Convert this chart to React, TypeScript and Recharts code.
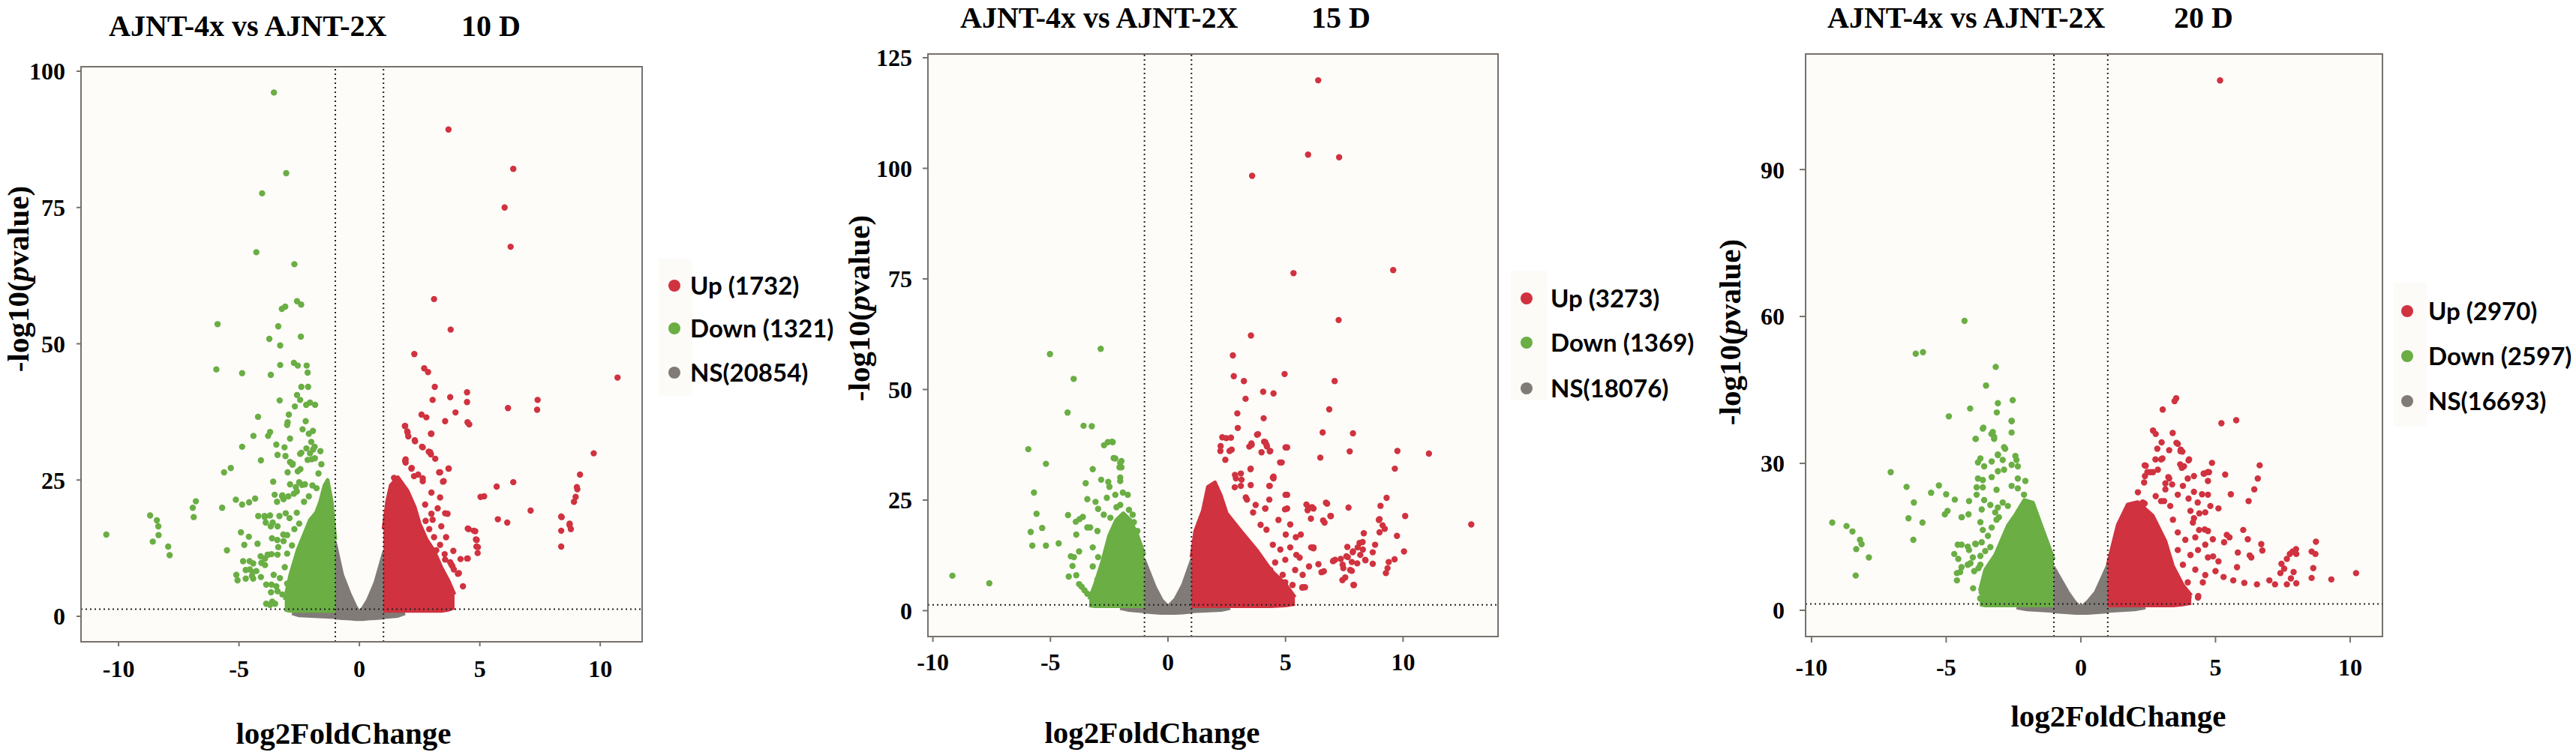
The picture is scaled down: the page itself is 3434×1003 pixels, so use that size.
import React from "react";
import {
  ComposedChart,
  Scatter,
  Area,
  XAxis,
  YAxis,
  CartesianGrid,
  ReferenceLine,
  ReferenceArea,
} from "recharts";

const RED = "#d0323f";
const GREEN = "#6aae44";
const GRAY = "#817b77";
const BG = "#fdfcf9";
const FRAME = "#77716c";
const SERIF = "'Liberation Serif', 'Times New Roman', serif";

const pCut = 1.3; // -log10(0.05)
const fcCut = 1;

const xTicks = [-10, -5, 0, 5, 10];
const yTicks10 = [0, 25, 50, 75, 100];
const yTicks15 = [0, 25, 50, 75, 100, 125];
const yTicks20 = [0, 30, 60, 90];

const days = ["10 D", "15 D", "20 D"];
const upCounts = [1732, 3273, 2970];
const downCounts = [1321, 1369, 2597];
const nsCounts = [20854, 18076, 16693];

// ---- 10 D ----
const up10: [number, number][] = [
  [10.72, 43.8], [7.4, 39.7], [7.38, 37.9], [9.73, 29.9], [9.16, 26.0], [9.03, 23.7], [9.05, 23.3],
  [8.98, 21.9], [8.91, 21.0], [7.11, 19.4], [8.4, 18.2], [8.73, 17.0], [3.7, 89.3], [6.39, 82.1],
  [6.03, 75.0], [6.28, 67.8], [3.1, 58.2], [3.79, 52.6], [2.28, 48.1], [2.69, 45.5], [2.85, 44.8],
  [3.13, 42.1], [3.77, 40.2], [3.04, 39.7], [4.47, 41.1], [4.47, 39.3], [3.99, 37.4], [6.17, 38.2],
  [3.56, 35.8], [2.58, 37.0], [2.78, 36.5], [4.49, 35.6], [4.56, 35.2], [2.97, 33.5], [1.89, 34.9],
  [1.99, 33.9], [2.03, 33.0], [2.3, 32.3], [2.6, 31.1], [2.88, 30.2], [2.97, 29.7], [3.15, 28.9],
  [1.92, 28.8], [1.92, 28.2], [3.7, 27.1], [3.31, 26.4], [2.17, 27.2], [2.44, 26.0], [2.63, 25.3],
  [1.44, 25.4], [6.39, 24.6], [3.47, 24.7], [5.7, 23.8], [5.03, 21.9], [3.56, 18.9], [5.75, 17.8],
  [6.14, 17.2], [4.54, 16.0], [4.75, 15.7], [4.84, 14.1], [4.86, 12.8], [4.91, 11.6], [4.47, 10.6],
  [8.38, 18.3], [8.38, 15.7], [8.38, 12.8], [8.73, 16.7], [8.78, 16.0], [3.19, 12.1], [3.54, 11.4],
  [3.77, 9.9], [3.86, 9.2], [4.09, 7.8], [1.9, 34.9], [2.0, 33.7], [2.99, 33.5], [2.31, 32.1],
  [2.63, 31.0], [2.94, 30.1], [1.9, 28.5], [2.16, 27.1], [2.27, 25.7], [2.63, 24.8], [3.35, 26.4],
  [3.71, 27.1], [3.5, 24.8], [2.99, 22.7], [3.35, 21.8], [2.73, 20.5], [3.25, 19.8], [3.66, 18.8],
  [2.99, 18.8], [3.04, 17.7], [4.5, 16.1], [4.81, 15.6], [4.87, 14.0], [4.92, 12.7], [4.5, 10.6],
  [5.18, 22.0], [3.35, 13.1], [3.56, 10.4], [3.82, 9.5], [3.92, 8.6], [4.13, 7.9], [3.04, 8.6],
  [3.25, 6.7], [3.09, 5.0], [3.09, 4.1], [2.47, 2.1], [2.9, 16.0], [3.1, 14.5], [2.75, 17.5],
  [3.4, 16.5], [3.6, 14.5], [3.9, 12.0], [4.2, 10.5], [4.3, 5.5],
];
const down10: [number, number][] = [
  [-3.55, 96.1], [-3.04, 81.3], [-4.04, 77.6], [-4.28, 66.8], [-2.7, 64.6], [-2.59, 57.8],
  [-2.42, 57.2], [-3.22, 56.4], [-3.08, 56.8], [-5.89, 53.6], [-3.37, 53.2], [-3.74, 50.9],
  [-3.29, 49.7], [-2.43, 51.3], [-3.29, 46.1], [-2.72, 46.5], [-2.56, 46.0], [-2.19, 46.0],
  [-2.15, 44.7], [-5.94, 45.3], [-4.87, 44.6], [-3.68, 44.3], [-3.31, 39.6], [-2.59, 40.6],
  [-2.46, 39.7], [-2.13, 42.1], [-2.41, 42.1], [-2.05, 39.2], [-1.84, 38.8], [-2.21, 38.8],
  [-2.68, 38.5], [-2.93, 37.0], [-2.98, 35.6], [-4.21, 36.6], [-2.23, 35.8], [-4.4, 33.1],
  [-3.71, 33.8], [-3.79, 33.1], [-3.0, 35.1], [-2.88, 32.6], [-2.36, 34.3], [-2.1, 33.5],
  [-2.0, 32.0], [-1.93, 34.0], [-4.87, 31.1], [-3.45, 31.5], [-3.11, 31.0], [-3.4, 29.6],
  [-3.07, 29.4], [-4.09, 28.6], [-2.88, 28.3], [-2.78, 27.8], [-2.2, 30.8], [-2.41, 30.0],
  [-2.05, 29.9], [-1.86, 31.1], [-1.92, 30.6], [-1.98, 28.8], [-1.85, 29.0], [-5.62, 26.4],
  [-5.34, 27.2], [-3.58, 24.7], [-2.88, 24.2], [-2.5, 24.6], [-2.26, 24.2], [-3.2, 22.2],
  [-3.15, 21.5], [-2.95, 22.0], [-2.72, 22.5], [-2.6, 22.9], [-4.33, 21.6], [-4.58, 20.9],
  [-4.87, 20.5], [-5.13, 21.4], [-5.7, 19.9], [-6.79, 21.1], [-6.92, 19.9], [-6.88, 18.2],
  [-8.69, 18.5], [-8.41, 17.6], [-8.35, 16.5], [-8.34, 14.9], [-8.58, 13.7], [-7.94, 12.8],
  [-7.88, 11.2], [-10.51, 15.0], [-3.93, 18.2], [-3.71, 18.5], [-3.6, 17.2], [-3.4, 16.5],
  [-4.92, 15.4], [-4.59, 14.6], [-4.78, 13.1], [-4.23, 13.3], [-5.5, 12.1], [-3.41, 14.0],
  [-3.15, 13.8], [-3.0, 14.9], [-3.81, 11.3], [-3.65, 11.4], [-3.4, 11.3], [-3.92, 10.6],
  [-4.83, 10.1], [-4.56, 10.1], [-4.07, 9.8], [-4.55, 8.6], [-4.43, 8.1], [-4.28, 8.3],
  [-4.41, 6.9], [-4.09, 7.2], [-5.11, 7.6], [-5.06, 6.6], [-3.65, 5.8], [-3.45, 5.5],
  [-3.4, 4.6], [-3.62, 2.7], [-3.5, 2.3], [-2.77, 28.0], [-2.46, 29.8], [-2.15, 28.7],
  [-2.98, 26.4], [-2.56, 26.6], [-3.52, 22.3], [-3.21, 22.0], [-2.64, 23.7], [-2.38, 24.1],
  [-4.2, 18.4], [-3.94, 18.4], [-3.68, 16.5], [-3.89, 17.2], [-3.32, 18.4], [-3.06, 18.9],
  [-3.42, 21.0], [-3.63, 14.3], [-3.16, 15.0], [-3.37, 12.7], [-4.1, 11.0], [-3.79, 11.3],
  [-4.41, 9.7], [-4.72, 8.5], [-4.46, 7.4], [-4.72, 6.9], [-3.92, 9.4], [-3.56, 7.6],
  [-3.87, 5.8], [-3.67, 4.4], [-3.87, 2.3], [-3.71, 2.1], [-2.9, 18.0], [-2.7, 16.0],
  [-3.1, 9.0], [-3.3, 7.0], [-2.6, 19.0], [-3.2, 4.0], [-2.3, 21.0], [-1.62, 30.3],
  [-1.58, 27.9], [-1.7, 26.2], [-1.78, 23.5], [-2.45, 27.0], [-3.0, 11.5], [-3.0, 6.0],
  [-2.1, 22.0], [-1.95, 24.0], [-2.5, 17.0], [-2.8, 13.0],
];
const nsBand10: [number, number, number][] = [
  [-2.8, 0.5, 1.4], [-2.5, 0.1, 1.6], [-1.05, -0.2, 1.6], [-1.0, -0.3, 13.6], [-0.7, -0.4, 7.6],
  [-0.38, -0.5, 4.0], [-0.15, -0.6, 1.8], [0, -0.6, 0.8], [0.15, -0.6, 1.6], [0.34, -0.5, 3.0],
  [0.65, -0.4, 6.2], [1.0, -0.3, 11.7], [1.05, -0.2, 1.6], [1.6, 0.0, 1.6], [1.9, 0.5, 1.4],
];
const downBand10: [number, number, number][] = [
  [-3.1, 1.2, 3], [-2.87, 1.0, 7.6], [-2.56, 1.0, 12.2], [-2.3, 1.0, 15], [-2.05, 1.0, 17.7],
  [-1.8, 1.0, 19], [-1.63, 1.0, 21], [-1.45, 1.0, 24], [-1.32, 1.0, 25], [-1.15, 1.0, 21],
  [-1.0, 1.0, 14],
];
const upBand10: [number, number, number][] = [
  [1.0, 1.0, 16], [1.15, 1.0, 21], [1.3, 1.0, 24], [1.6, 1.0, 25.5], [2.0, 1.0, 23],
  [2.3, 1.0, 20], [2.5, 1.0, 17], [2.8, 1.0, 14], [3.1, 1.0, 12], [3.4, 1.0, 9], [3.7, 1.2, 6.5],
  [3.95, 1.6, 4],
];

// ---- 15 D ----
const up15: [number, number][] = [
  [6.39, 119.9], [5.96, 103.1], [7.28, 102.5], [3.58, 98.3], [5.34, 76.3], [9.58, 77.0],
  [7.26, 65.7], [3.53, 62.2], [2.76, 57.7], [4.96, 53.5], [2.8, 53.0], [3.23, 51.9], [7.09, 51.9],
  [4.05, 49.5], [4.49, 49.1], [3.3, 47.9], [6.86, 45.5], [2.95, 44.6], [4.07, 43.5], [2.97, 41.3],
  [6.58, 40.3], [7.87, 40.1], [3.79, 39.8], [2.31, 39.2], [2.48, 39.0], [2.68, 39.1], [4.09, 38.2],
  [4.21, 37.1], [4.33, 36.0], [5.0, 36.9], [3.55, 37.8], [3.46, 37.1], [7.73, 36.0], [9.76, 36.1],
  [11.1, 35.5], [2.24, 37.2], [2.62, 36.1], [6.48, 34.6], [4.77, 33.5], [4.49, 30.3], [4.49, 29.9],
  [9.65, 32.1], [3.51, 32.0], [2.85, 30.7], [3.13, 29.6], [4.33, 28.2], [5.0, 26.2], [9.3, 25.5],
  [9.04, 23.7], [6.72, 24.4], [5.89, 24.0], [5.94, 22.7], [6.13, 23.4], [4.14, 23.1], [7.68, 23.3],
  [6.91, 21.4], [6.6, 20.4], [10.09, 21.4], [4.98, 22.9], [9.0, 20.7], [9.13, 19.3], [9.22, 18.5],
  [12.9, 19.5], [8.33, 17.5], [9.0, 17.7], [9.74, 16.9], [7.63, 14.4], [7.87, 13.4], [8.15, 15.3],
  [8.29, 13.8], [7.35, 11.7], [7.59, 12.3], [7.82, 11.0], [7.46, 9.6], [8.05, 10.7], [8.4, 11.4],
  [9.39, 11.0], [9.64, 11.6], [10.04, 13.4], [7.82, 9.0], [7.89, 5.8], [7.42, 6.9], [9.27, 8.5],
  [9.34, 9.6], [8.71, 10.6], [6.53, 8.7], [7.02, 11.2], [5.71, 5.2], [3.83, 39.9], [3.56, 37.5],
  [4.14, 38.1], [4.19, 37.5], [4.35, 36.1], [3.98, 35.8], [5.07, 36.9], [4.84, 33.5], [2.23, 36.1],
  [2.71, 36.4], [2.44, 34.1], [3.52, 32.1], [3.1, 31.0], [2.89, 29.9], [2.84, 27.9], [3.1, 28.2],
  [3.52, 28.4], [4.46, 30.1], [4.31, 28.2], [5.07, 26.2], [4.31, 25.1], [3.36, 25.1], [3.31, 25.6],
  [3.73, 23.9], [3.62, 22.2], [4.14, 23.1], [3.94, 19.4], [4.19, 18.3], [5.07, 23.1], [5.01, 17.2],
  [5.65, 17.2], [5.44, 16.6], [6.19, 14.3], [5.97, 23.4], [6.19, 23.1], [6.77, 24.2], [6.93, 21.4],
  [6.66, 19.9], [6.08, 20.8], [4.46, 14.9], [4.78, 13.8], [5.2, 14.3], [5.46, 12.6], [4.99, 11.5],
  [4.56, 10.9], [4.35, 9.2], [4.88, 8.1], [5.41, 9.2], [5.73, 8.1], [4.99, 6.4], [4.78, 5.8],
  [5.3, 5.8], [4.56, 4.2], [4.14, 3.6], [5.73, 5.3], [7.11, 11.5], [7.43, 10.4], [7.65, 12.1],
  [7.86, 13.2], [8.07, 14.3], [8.28, 15.5], [8.18, 12.6], [7.75, 9.2], [7.54, 7.5], [7.91, 5.8],
  [8.39, 11.5], [8.71, 13.2], [8.81, 14.9], [8.97, 20.5], [6.63, 8.9], [7.05, 11.3], [6.09, 14.3],
  [5.83, 5.3], [6.19, 14.1], [5.6, 12.0], [6.0, 10.0], [6.4, 10.5], [5.2, 19.5], [4.7, 20.5],
];
const down15: [number, number][] = [
  [-5.02, 58.0], [-2.86, 59.2], [-4.01, 52.4], [-4.27, 44.8], [-3.59, 41.8], [-3.24, 41.7],
  [-5.94, 36.5], [-2.72, 37.4], [-2.56, 38.1], [-2.38, 38.2], [-5.19, 33.2], [-2.31, 34.5],
  [-2.03, 33.4], [-2.06, 32.4], [-3.2, 32.0], [-5.7, 26.7], [-3.5, 28.8], [-2.84, 29.6],
  [-2.54, 29.1], [-2.49, 28.0], [-5.59, 21.9], [-4.25, 21.6], [-5.35, 18.7], [-5.84, 17.8],
  [-5.77, 14.7], [-5.19, 14.7], [-4.65, 15.2], [-3.92, 20.1], [-3.62, 21.2], [-3.76, 20.7],
  [-3.9, 17.2], [-3.43, 18.8], [-3.31, 18.8], [-4.13, 12.3], [-4.0, 12.1], [-3.78, 13.4],
  [-4.06, 10.1], [-3.9, 8.0], [-3.78, 6.0], [-3.67, 5.4], [-3.43, 3.8], [-3.55, 4.6],
  [-4.22, 7.7], [-9.17, 7.9], [-7.6, 6.2], [-3.43, 25.2], [-3.08, 24.6], [-2.97, 23.0],
  [-2.73, 21.7], [-3.2, 14.3], [-2.97, 12.1], [-2.73, 9.4], [-2.35, 38.1], [-2.24, 34.4],
  [-1.98, 33.8], [-1.98, 32.4], [-2.03, 30.1], [-2.03, 29.3], [-2.24, 26.2], [-1.92, 26.7],
  [-1.71, 26.2], [-2.03, 23.9], [-1.66, 22.8], [-1.5, 21.7], [-1.82, 20.5], [-1.45, 20.0],
  [-2.19, 23.4], [-2.6, 25.5], [-3.0, 18.0], [-3.2, 10.0], [-3.0, 7.0], [-2.9, 4.0],
  [-2.45, 21.0], [-1.3, 18.0],
];
const nsBand15: [number, number, number][] = [
  [-2.04, 0.5, 1.4], [-1.7, 0.1, 1.6], [-1.05, -0.2, 1.6], [-1.0, -0.3, 11.5], [-0.54, -0.5, 5.3],
  [-0.25, -0.6, 2.4], [0, -0.6, 1.0], [0.3, -0.6, 2.6], [0.63, -0.5, 5.9], [1.0, -0.3, 11.5],
  [1.05, -0.2, 1.6], [2.3, 0.1, 1.6], [2.65, 0.5, 1.4],
];
const downBand15: [number, number, number][] = [
  [-3.35, 1.2, 2.5], [-3.1, 1.0, 6], [-2.8, 1.0, 11], [-2.5, 1.0, 17], [-2.2, 1.0, 20.5],
  [-1.9, 1.0, 22], [-1.6, 1.0, 20.5], [-1.3, 1.0, 17], [-1.0, 1.0, 12.6],
];
const upBand15: [number, number, number][] = [
  [1.0, 1.0, 12], [1.16, 1.0, 18], [1.48, 1.0, 22.5], [1.7, 1.0, 28], [2.0, 1.0, 29],
  [2.25, 1.0, 26], [2.5, 1.0, 22], [3.1, 1.0, 18], [3.8, 1.0, 13.5], [4.4, 1.0, 9],
  [5.0, 1.2, 6], [5.4, 1.5, 3],
];

// ---- 20 D ----
const up20: [number, number][] = [
  [5.17, 108.2], [3.54, 43.3], [3.48, 42.7], [3.04, 41.0], [5.77, 38.8], [5.22, 38.2], [2.68, 36.7],
  [2.78, 36.0], [3.41, 36.2], [3.55, 34.2], [3.71, 32.8], [3.77, 32.4], [2.84, 33.0], [2.98, 30.8],
  [4.0, 30.6], [3.69, 29.8], [3.75, 29.1], [4.87, 30.1], [6.64, 29.6], [2.37, 29.6], [2.47, 28.2],
  [2.68, 28.2], [5.36, 27.7], [4.56, 27.9], [4.71, 28.2], [6.57, 26.9], [3.25, 27.2], [3.39, 25.7],
  [3.14, 24.7], [5.57, 23.7], [4.2, 24.2], [4.0, 22.8], [4.5, 23.7], [6.44, 24.7], [6.23, 22.3],
  [2.78, 23.3], [2.98, 22.3], [2.37, 21.8], [4.81, 21.3], [5.11, 20.8], [4.4, 19.8], [4.2, 18.8],
  [6.03, 16.4], [5.42, 15.4], [5.52, 14.9], [5.32, 13.9], [6.7, 13.5], [6.74, 12.2], [5.83, 11.8],
  [6.27, 11.2], [6.33, 10.8], [4.91, 11.0], [5.11, 10.0], [7.76, 11.5], [7.86, 12.0], [7.99, 12.5],
  [8.0, 11.5], [8.57, 12.0], [8.73, 14.0], [8.71, 11.5], [7.45, 9.5], [7.65, 10.5], [7.55, 8.5],
  [7.41, 7.6], [7.65, 5.3], [7.8, 6.5], [8.0, 5.5], [7.9, 7.8], [8.57, 6.6], [8.63, 8.6],
  [7.21, 5.3], [7.0, 6.1], [6.54, 5.3], [6.07, 5.6], [5.66, 6.1], [9.3, 6.3], [10.22, 7.6],
  [4.0, 2.7], [4.36, 2.9], [3.0, 34.3], [3.6, 34.0], [3.28, 32.7], [3.7, 32.5], [2.77, 30.8],
  [3.03, 31.0], [2.41, 29.5], [3.83, 29.4], [4.02, 30.8], [2.86, 28.7], [2.58, 28.2], [2.38, 27.4],
  [2.35, 26.1], [3.28, 26.9], [3.97, 26.9], [4.2, 27.4], [4.58, 27.9], [4.76, 28.2], [3.14, 25.9],
  [3.79, 25.4], [4.72, 26.4], [2.12, 24.1], [2.3, 22.0], [3.09, 22.3], [3.6, 23.6], [4.34, 22.0],
  [4.72, 23.6], [3.32, 21.3], [4.07, 20.3], [4.62, 20.0], [3.42, 18.5], [4.16, 17.9], [4.39, 16.4],
  [4.72, 16.2], [3.6, 15.9], [3.88, 14.4], [4.25, 14.9], [4.62, 13.4], [4.35, 12.3], [3.6, 12.3],
  [4.07, 11.3], [4.72, 10.8], [3.79, 9.3], [4.25, 8.3], [4.62, 7.2], [3.51, 7.2], [3.97, 5.7],
  [4.53, 5.7], [3.79, 3.7], [4.35, 2.6], [3.97, 2.4], [3.32, 3.2], [5.0, 8.0], [5.3, 6.8],
  [5.8, 8.8], [6.2, 14.5], [4.9, 14.5], [4.6, 16.5],
];
const down20: [number, number][] = [
  [-4.32, 59.1], [-6.13, 52.4], [-5.86, 52.7], [-3.16, 49.7], [-3.52, 45.9], [-2.53, 42.9],
  [-3.08, 42.3], [-3.12, 40.4], [-4.11, 41.2], [-4.9, 39.6], [-2.57, 38.6], [-2.57, 36.3],
  [-3.62, 37.3], [-3.91, 35.0], [-3.32, 36.0], [-3.22, 35.0], [-2.81, 33.0], [-3.08, 31.8],
  [-7.06, 28.2], [-6.47, 25.2], [-5.27, 25.5], [-5.56, 24.0], [-6.2, 22.0], [-4.68, 22.6],
  [-5.0, 23.7], [-6.4, 18.8], [-5.88, 17.9], [-6.22, 14.4], [-5.05, 19.6], [-4.95, 20.3],
  [-9.23, 17.9], [-8.7, 17.2], [-8.48, 16.1], [-8.2, 14.4], [-8.14, 13.5], [-8.34, 12.5],
  [-7.87, 10.8], [-8.36, 7.1], [-4.42, 19.0], [-4.17, 19.6], [-4.7, 11.5], [-4.55, 10.5],
  [-4.6, 7.6], [-4.6, 6.1], [-4.2, 13.0], [-3.9, 13.5], [-4.1, 9.6], [-3.8, 8.6], [-3.73, 2.4],
  [-3.64, 37.1], [-3.27, 36.4], [-3.22, 35.4], [-2.57, 38.7], [-3.9, 35.0], [-2.85, 33.3],
  [-3.08, 31.7], [-2.9, 30.7], [-2.43, 31.5], [-2.39, 30.7], [-2.57, 29.7], [-2.34, 29.4],
  [-3.82, 30.2], [-3.59, 29.4], [-3.31, 30.4], [-3.73, 31.0], [-3.08, 28.4], [-2.85, 28.7],
  [-3.31, 27.2], [-2.34, 26.9], [-2.06, 26.4], [-3.82, 26.9], [-3.64, 26.6], [-3.87, 25.1],
  [-3.64, 25.1], [-3.87, 23.6], [-3.13, 24.6], [-2.57, 25.4], [-2.34, 24.9], [-2.11, 23.6],
  [-4.15, 22.3], [-3.59, 22.5], [-3.36, 21.5], [-3.08, 21.0], [-2.9, 22.0], [-2.71, 21.3],
  [-4.43, 19.0], [-3.68, 20.6], [-3.18, 20.0], [-3.04, 19.0], [-3.73, 18.0], [-3.64, 16.4],
  [-3.31, 16.9], [-3.13, 18.5], [-4.57, 13.4], [-4.43, 13.4], [-4.15, 12.3], [-3.92, 13.6],
  [-3.68, 13.9], [-3.45, 15.2], [-3.36, 12.9], [-3.55, 12.1], [-3.73, 11.1], [-4.01, 10.8],
  [-4.2, 9.3], [-4.43, 8.8], [-4.48, 7.8], [-3.96, 8.0], [-3.73, 9.3], [-3.68, 3.7],
  [-3.73, 2.4], [-3.55, 5.7], [-3.36, 6.2], [-3.45, 7.8], [-4.0, 4.5], [-3.2, 6.0],
];
const nsBand20: [number, number, number][] = [
  [-2.39, 0.5, 1.4], [-2.0, 0.1, 1.6], [-1.05, -0.2, 1.6], [-1.0, -0.3, 8.8], [-0.47, -0.5, 3.7],
  [-0.2, -0.6, 1.6], [0, -0.6, 0.6], [0.25, -0.6, 1.8], [0.54, -0.5, 3.7], [1.0, -0.3, 9.3],
  [1.05, -0.2, 1.6], [2.0, 0.1, 1.6], [2.4, 0.5, 1.4],
];
const downBand20: [number, number, number][] = [
  [-3.75, 1.2, 4], [-3.55, 1.0, 8.3], [-3.18, 1.0, 11.3], [-2.71, 1.0, 17.3], [-2.43, 1.0, 19.5],
  [-2.1, 1.0, 22.5], [-1.78, 1.0, 22], [-1.41, 1.0, 16.4], [-1.0, 1.0, 10.3],
];
const upBand20: [number, number, number][] = [
  [1.0, 1.0, 9.3], [1.37, 1.0, 17.4], [1.74, 1.0, 21.6], [2.11, 1.0, 22.1], [2.67, 1.0, 19.3],
  [3.14, 1.0, 14.1], [3.42, 1.0, 9], [3.79, 1.2, 5.1], [4.1, 1.5, 3],
];

const toPts = (a: [number, number][]) => a.map(([x, y]) => ({ x, y }));
const toBand = (a: [number, number, number][]) => a.map(([x, lo, hi]) => ({ x, band: [lo, hi] }));

const dotShape = (color: string) => (p: any) =>
  <circle cx={p.cx} cy={p.cy} r={4.2} fill={color} />;

const panels = [
  {
    up: up10, down: down10, ns: nsBand10, upBand: upBand10, downBand: downBand10, yTicks: yTicks10,
    xDom: [-11.56, 11.74], yDom: [-4.68, 100.83],
    left: 0, width: 880, height: 930, top: 89, right: 24, yW: 108, xH: 74,
    ySize: 6, yMargin: 15, xSize: 6, xMargin: 18,
  },
  {
    up: up15, down: down15, ns: nsBand15, upBand: upBand15, downBand: downBand15, yTicks: yTicks15,
    xDom: [-10.21, 14.04], yDom: [-5.85, 125.85],
    left: 1100, width: 920, height: 930, top: 72, right: 23, yW: 137, xH: 81,
    ySize: 7, yMargin: 14, xSize: 7, xMargin: 15,
  },
  {
    up: up20, down: down20, ns: nsBand20, upBand: upBand20, downBand: downBand20, yTicks: yTicks20,
    xDom: [-10.22, 11.2], yDom: [-5.36, 113.6],
    left: 2270, width: 930, height: 930, top: 72, right: 24, yW: 137, xH: 81,
    ySize: 8, yMargin: 20, xSize: 8, xMargin: 21,
  },
];

// text placement for each panel
const textLayout = [
  { titleX: 145, titleY: 48, dayX: 615, xlabX: 458, xlabY: 992, ylabX: 38, ylabY: 372,
    legX: 899, legY: [381, 438, 497], legTx: 920, box: [878, 345, 45, 183] },
  { titleX: 1280, titleY: 37, dayX: 1748, xlabX: 1536, xlabY: 991, ylabX: 1159, ylabY: 411,
    legX: 2035, legY: [398, 457, 518], legTx: 2067, box: [2014, 361, 49, 173] },
  { titleX: 2436, titleY: 37, dayX: 2898, xlabX: 2824, xlabY: 969, ylabX: 2320, ylabY: 443,
    legX: 3209, legY: [415, 475, 535], legTx: 3237, box: [3191, 377, 44, 192] },
];

const tickStyle = { fill: "#000", fontSize: 32, fontFamily: SERIF, fontWeight: 700 };

function Volcano({ cfg }: { cfg: (typeof panels)[number] }) {
  const band = (data: [number, number, number][], color: string, w: number) => (
    <Area
      data={toBand(data)}
      dataKey="band"
      type="linear"
      fill={color}
      fillOpacity={1}
      stroke={color}
      strokeWidth={w}
      strokeLinejoin="round"
      dot={false}
      activeDot={false}
      isAnimationActive={false}
    />
  );
  return (
    <div style={{ position: "absolute", left: cfg.left, top: 0 }}>
      <ComposedChart
        width={cfg.width}
        height={cfg.height}
        margin={{ top: cfg.top, right: cfg.right, bottom: 0, left: 0 }}
      >
        <CartesianGrid horizontal={false} vertical={false} fill={BG} />
        <XAxis
          type="number"
          dataKey="x"
          domain={cfg.xDom}
          ticks={xTicks}
          allowDataOverflow
          height={cfg.xH}
          tick={tickStyle}
          tickSize={cfg.xSize}
          tickMargin={cfg.xMargin}
          axisLine={{ stroke: FRAME, strokeWidth: 2 }}
          tickLine={{ stroke: FRAME, strokeWidth: 2 }}
        />
        <YAxis
          type="number"
          dataKey="y"
          domain={cfg.yDom}
          ticks={cfg.yTicks}
          allowDataOverflow
          width={cfg.yW}
          tick={tickStyle}
          tickSize={cfg.ySize}
          tickMargin={cfg.yMargin}
          axisLine={{ stroke: FRAME, strokeWidth: 2 }}
          tickLine={{ stroke: FRAME, strokeWidth: 2 }}
        />
        {band(cfg.ns, GRAY, 4)}
        {band(cfg.downBand, GREEN, 5)}
        {band(cfg.upBand, RED, 5)}
        <Scatter data={toPts(cfg.down)} fill={GREEN} shape={dotShape(GREEN)} isAnimationActive={false} />
        <Scatter data={toPts(cfg.up)} fill={RED} shape={dotShape(RED)} isAnimationActive={false} />
        <ReferenceLine x={-fcCut} stroke="#222" strokeWidth={2} strokeDasharray="2 4" />
        <ReferenceLine x={fcCut} stroke="#222" strokeWidth={2} strokeDasharray="2 4" />
        <ReferenceLine y={pCut} stroke="#222" strokeWidth={2} strokeDasharray="2 4" />
        <ReferenceArea
          x1={cfg.xDom[0]}
          x2={cfg.xDom[1]}
          y1={cfg.yDom[0]}
          y2={cfg.yDom[1]}
          fill="none"
          fillOpacity={0}
          stroke={FRAME}
          strokeWidth={2}
          ifOverflow="visible"
        />
      </ComposedChart>
    </div>
  );
}

function Overlay() {
  const legendColors = [RED, GREEN, GRAY];
  return (
    <svg
      width={3434}
      height={1003}
      style={{ position: "absolute", left: 0, top: 0, pointerEvents: "none" }}
    >
      {textLayout.map((t, i) => {
        const labels = [`Up (${upCounts[i]})`, `Down (${downCounts[i]})`, `NS(${nsCounts[i]})`];
        return (
          <g key={i}>
            <text x={t.titleX} y={t.titleY} fontFamily={SERIF} fontWeight={700} fontSize={40}>
              AJNT-4x vs AJNT-2X
            </text>
            <text x={t.dayX} y={t.titleY} fontFamily={SERIF} fontWeight={700} fontSize={40}>
              {days[i]}
            </text>
            <text
              x={t.xlabX}
              y={t.xlabY}
              textAnchor="middle"
              fontFamily={SERIF}
              fontWeight={700}
              fontSize={41}
            >
              log2FoldChange
            </text>
            <text
              transform={`translate(${t.ylabX},${t.ylabY}) rotate(-90)`}
              textAnchor="middle"
              fontFamily={SERIF}
              fontWeight={700}
              fontSize={41}
            >
              -log10(<tspan fontStyle="italic">p</tspan>value)
            </text>
            <rect x={t.box[0]} y={t.box[1]} width={t.box[2]} height={t.box[3]} fill="#fcfbf8" />
            {labels.map((lab, j) => (
              <g key={j}>
                <circle cx={t.legX} cy={t.legY[j]} r={8} fill={legendColors[j]} />
                <text
                  x={t.legTx}
                  y={t.legY[j]}
                  dy="0.36em"
                  fontFamily="Lato, 'Open Sans', sans-serif"
                  fontWeight={700}
                  fontSize={33}
                >
                  {lab}
                </text>
              </g>
            ))}
          </g>
        );
      })}
    </svg>
  );
}

export default function App() {
  return (
    <div
      style={{
        position: "absolute",
        left: 0,
        top: 0,
        width: 3434,
        height: 1003,
        background: "#fff",
        overflow: "hidden",
      }}
    >
      {panels.map((cfg, i) => (
        <Volcano key={i} cfg={cfg} />
      ))}
      <Overlay />
    </div>
  );
}
